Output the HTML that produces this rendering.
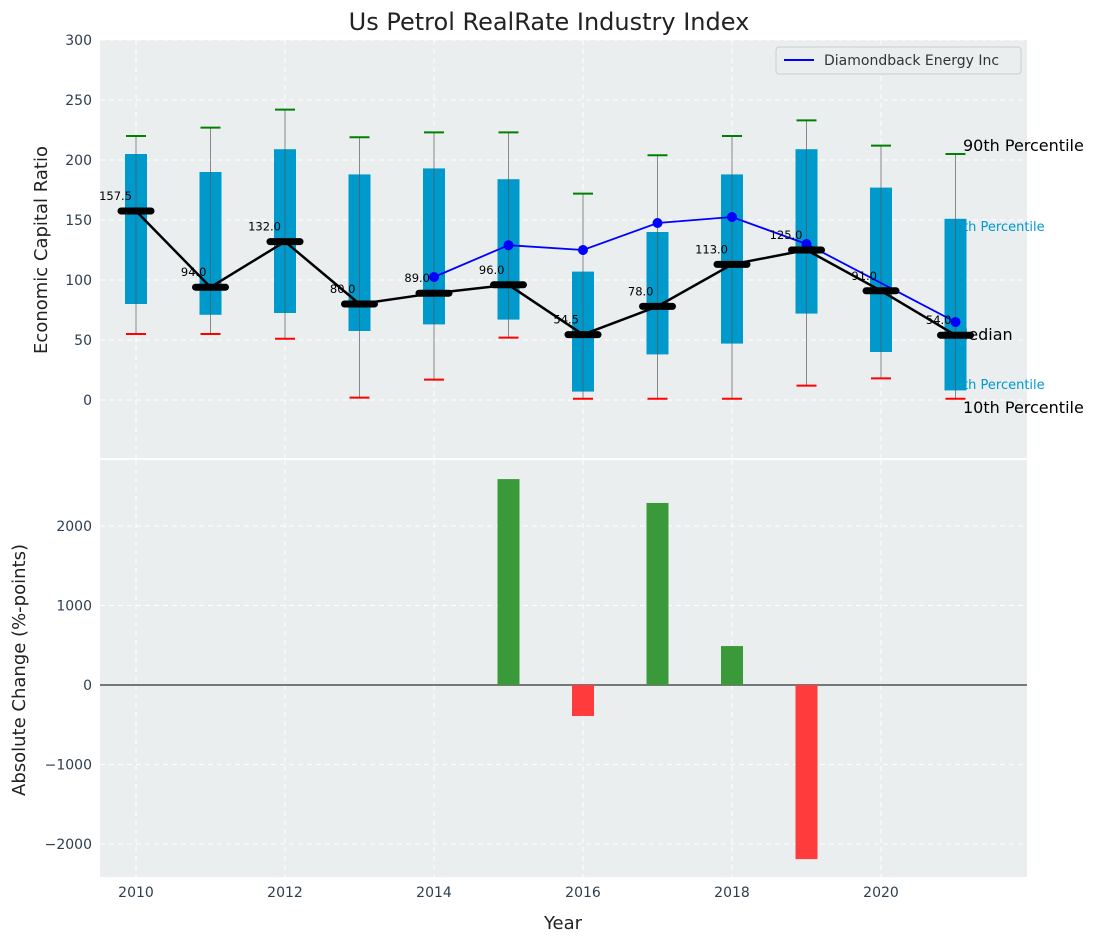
<!DOCTYPE html>
<html><head><meta charset="utf-8"><style>
body{margin:0;background:#fff;font-family:"DejaVu Sans","Liberation Sans",sans-serif;}
svg text{font-family:"DejaVu Sans","Liberation Sans",sans-serif;}
</style></head><body>
<svg id="chart" width="1098" height="942" xmlns="http://www.w3.org/2000/svg">
<text x="549" y="30" text-anchor="middle" font-size="24" fill="#222">Us Petrol RealRate Industry Index</text>
<rect x="100" y="40" width="927" height="418" fill="#eaeeef"/>
<rect x="100" y="460" width="927" height="417" fill="#eaeeef"/>
<g id="grid"></g><g id="under"></g><g id="marks"></g><g id="axes"></g>
<g>
<rect x="776" y="47" width="245" height="27" rx="3" fill="#eaeeef" stroke="#ccc"/>
<line x1="784" y1="60" x2="814" y2="60" stroke="#0000ff" stroke-width="2"/>
<text x="824" y="65" font-size="14" fill="#333">Diamondback Energy Inc</text>
</g>
<text transform="translate(47,250) rotate(-90)" text-anchor="middle" font-size="18" fill="#222">Economic Capital Ratio</text>
<text transform="translate(25,670) rotate(-90)" text-anchor="middle" font-size="18" fill="#222">Absolute Change (%-points)</text>
<text x="563" y="929" text-anchor="middle" font-size="18" fill="#222">Year</text>
</svg>
<script>
const years=[2010,2011,2012,2013,2014,2015,2016,2017,2018,2019,2020,2021];
const p10=[55,55,51,2,17,52,1,1,1,12,18,1];
const q1=[80,71,72.5,57.5,63,67,7,38,47,72,40,8];
const med=[157.5,94,132,80,89,96,54.5,78,113,125,91,54];
const q3=[205,190,209,188,193,184,107,140,188,209,177,151];
const p90=[220,227,242,219,223,223,172,204,220,233,212,205];
const fangYears=[2014,2015,2016,2017,2018,2019,2021];
const fangVals=[102.5,129,125,147.5,152.5,130,65];
const changeYears=[2015,2016,2017,2018,2019];
const changeVals=[2590,-390,2290,490,-2190];
const yTicksTop=[0,50,100,150,200,250,300];
const yTicksBot=[-2000,-1000,0,1000,2000];
const xTicks=[2010,2012,2014,2016,2018,2020];

const NS="http://www.w3.org/2000/svg";
const X=v=>136+(v-2010)*74.5;
const Y1=v=>400-v*1.2;
const Y2=v=>685-v*0.0795;
function mk(parent,tag,attrs,txt){const e=document.createElementNS(NS,tag);for(const k in attrs)e.setAttribute(k,attrs[k]);if(txt!==undefined)e.textContent=txt;document.getElementById(parent).appendChild(e);return e;}

for(const t of yTicksTop){const l=mk('grid','line',{x1:100,x2:1027,y1:Y1(t),y2:Y1(t),stroke:'#fff','stroke-dasharray':'5,4','stroke-width':1});


const tx=mk('axes','text',{x:92,y:Y1(t)+5,'text-anchor':'end','font-size':14,fill:'#2c3e50'},t);

}
for(const t of yTicksBot){const l=mk('grid','line',{x1:100,x2:1027,y1:Y2(t),y2:Y2(t),stroke:'#fff','stroke-dasharray':'5,4','stroke-width':1});


const tx=mk('axes','text',{x:92,y:Y2(t)+5,'text-anchor':'end','font-size':14,fill:'#2c3e50'},t<0?'\u2212'+Math.abs(t):t);

}
for(const t of xTicks){for(const [a,b] of [[40,458],[460,877]]){const l=mk('grid','line',{x1:X(t),x2:X(t),y1:a,y2:b,stroke:'#fff','stroke-dasharray':'5,4','stroke-width':1});

}
const tx=mk('axes','text',{x:X(t),y:897,'text-anchor':'middle','font-size':14,fill:'#2c3e50'},t);

}

const lx=X(2021)-9;
[['90th Percentile',963,151,'#000',16],['75th Percentile',lx,231,'#0099cc',13],['Median',lx+8,340,'#000',16],['25th Percentile',lx,389,'#0099cc',13],['10th Percentile',963,413,'#000',16]].forEach(d=>{
const t=mk('under','text',{x:d[1],y:d[2],'font-size':d[4],fill:d[3]},d[0]);

});

years.forEach((yr,i)=>{const x=X(yr);
const w=mk('marks','line',{x1:x,x2:x,y1:Y1(p90[i]),y2:Y1(p10[i]),stroke:'#888','stroke-width':1});


const b=mk('marks','rect',{x:x-11,y:Y1(q3[i]),width:22,height:Y1(q1[i])-Y1(q3[i]),fill:'#0099cc'});


const w2=mk('marks','line',{x1:x,x2:x,y1:Y1(q3[i]),y2:Y1(q1[i]),stroke:'#555','stroke-width':1,opacity:0.6});


const ct=mk('marks','line',{x1:x-10,x2:x+10,y1:Y1(p90[i]),y2:Y1(p90[i]),stroke:'green','stroke-width':2});


const cb=mk('marks','line',{x1:x-10,x2:x+10,y1:Y1(p10[i]),y2:Y1(p10[i]),stroke:'red','stroke-width':2});

});

const mp=mk('marks','polyline',{points:years.map((y,i)=>X(y)+','+Y1(med[i])).join(' '),fill:'none',stroke:'#000','stroke-width':2.5});


const fp=mk('marks','polyline',{points:fangYears.map((y,i)=>X(y)+','+Y1(fangVals[i])).join(' '),fill:'none',stroke:'#0000ff','stroke-width':1.8});


fangYears.forEach((y,i)=>{const c=mk('marks','circle',{cx:X(y),cy:Y1(fangVals[i]),r:5,fill:'#0000ff'});

});
years.forEach((yr,i)=>{const x=X(yr);
const m=mk('marks','line',{x1:x-15,x2:x+15,y1:Y1(med[i]),y2:Y1(med[i]),stroke:'#000','stroke-width':7,'stroke-linecap':'round'});


const t=mk('marks','text',{x:x-4,y:Y1(med[i])-11,'text-anchor':'end','font-size':11.5,fill:'#000'},med[i].toFixed(1));

});

const z=mk('marks','line',{x1:100,x2:1027,y1:Y2(0),y2:Y2(0),stroke:'#000','stroke-width':1});


changeYears.forEach((y,i)=>{const v=changeVals[i];const top=Math.min(Y2(v),Y2(0));
const r=mk('marks','rect',{x:X(y)-11,y:top,width:22,height:Math.abs(Y2(v)-Y2(0)),fill:v>=0?'#3a9a3a':'#ff3b3b'});

});
</script>
</body></html>
